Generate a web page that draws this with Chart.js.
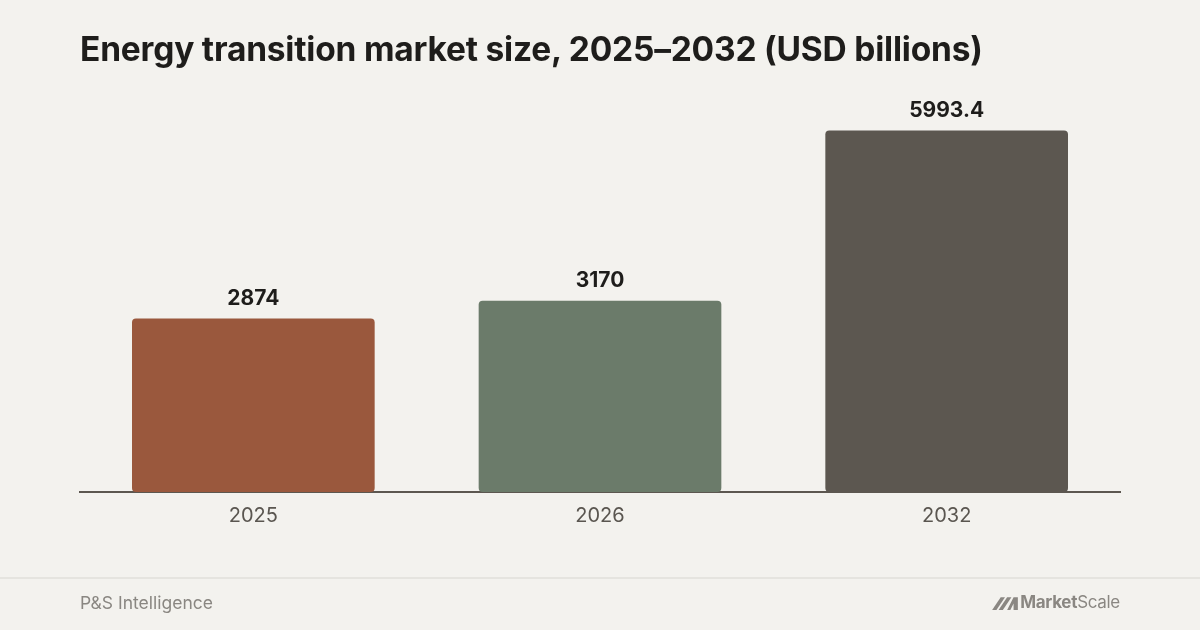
<!DOCTYPE html>
<html>
<head>
<meta charset="utf-8">
<script src="https://cdn.jsdelivr.net/npm/chart.js@4/dist/chart.umd.min.js"></script>
<style>
  html, body { margin: 0; padding: 0; background: #f3f2ee; }
  #wrap { position: relative; width: 1200px; height: 630px; overflow: hidden; font-family: Inter, "Noto Sans", sans-serif; }
  #title { position: absolute; left: 80px; top: 29px; font-size: 33.5px; font-weight: 700; color: #1e1d1b; letter-spacing: -0.2px; }
  #chart { position: absolute; left: 0; top: 0; }
  #rule { position: absolute; left: 0; top: 577px; width: 1200px; height: 2px; background: #e5e4df; }
  #source { position: absolute; left: 80px; top: 592px; font-size: 17.5px; color: #8a8782; }
  #brand { position: absolute; right: 80px; top: 592px; font-size: 17px; color: #8a8782; display: flex; align-items: center; letter-spacing: -0.3px; }
  #brand b { font-weight: 700; }
</style>
</head>
<body>
<div id="wrap">
  <canvas id="chart" width="1200" height="630"></canvas>
  <div id="title">Energy transition market size, 2025–2032 (USD billions)</div>
  <div id="rule"></div>
  <div id="source">P&amp;S Intelligence</div>
  <div id="brand">
    <svg width="26" height="15" viewBox="0 0 24 14" style="margin-right:2px">
      <polygon points="0,14 8,2 12,2 4,14" fill="#8a8782"/>
      <polygon points="6,14 14,2 18,2 10,14" fill="#8a8782"/>
      <polygon points="14,14 20,2 24,2 24,14 20,14 20,8 17,14" fill="#8a8782"/>
    </svg>
    <b>Market</b>Scale
  </div>
</div>
<script>
/* energy transition market size */
var years = ["2025", "2026", "2032"];
var marketSize = [2874, 3170, 5993.4];
var valueLabels = ["2874", "3170", "5993.4"];
var barColors = ["#9a583d", "#6b7b6a", "#5c5750"];

var valueLabelPlugin = {
  id: "valueLabels",
  afterDatasetsDraw: function(chart) {
    var ctx = chart.ctx;
    var meta = chart.getDatasetMeta(0);
    ctx.save();
    ctx.font = "700 21px Inter, 'Noto Sans', sans-serif";
    ctx.fillStyle = "#1e1d1b";
    ctx.textAlign = "center";
    ctx.textBaseline = "middle";
    meta.data.forEach(function(bar, i) {
      ctx.fillText(valueLabels[i], bar.x, bar.y - 20);
    });
    ctx.restore();
  }
};

var ctx = document.getElementById("chart");
var myChart = new Chart(ctx, {
  type: "bar",
  data: {
    labels: years,
    datasets: [{
      data: marketSize,
      backgroundColor: barColors,
      borderRadius: 4,
      borderSkipped: false,
      categoryPercentage: 1,
      barPercentage: 0.7
    }]
  },
  options: {
    responsive: false,
    animation: false,
    layout: { padding: { left: 80, right: 80, top: 130, bottom: 90 } },
    plugins: { legend: { display: false }, tooltip: { enabled: false } },
    scales: {
      x: {
        grid: { display: false, drawTicks: false },
        border: { display: true, color: "#5c5750", width: 2 },
        ticks: { color: "#5a5650", padding: 12, font: { family: "Inter, 'Noto Sans', sans-serif", size: 20 } }
      },
      y: { display: false, min: 0, max: 6000 }
    }
  },
  plugins: [valueLabelPlugin]
});
</script>
</body>
</html>
